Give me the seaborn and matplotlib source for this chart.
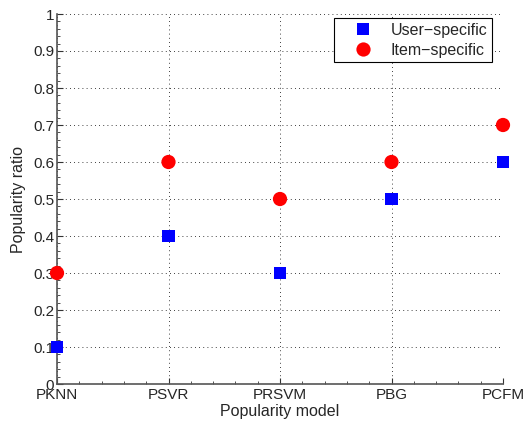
import matplotlib
matplotlib.use("Agg")
import matplotlib.pyplot as plt
import seaborn as sns
import pandas as pd
from matplotlib.ticker import AutoMinorLocator

models = ["PKNN", "PSVR", "PRSVM", "PBG", "PCFM"]
user_specific = [0.1, 0.4, 0.3, 0.5, 0.6]
item_specific = [0.3, 0.6, 0.5, 0.6, 0.7]
y_ticks = [0, 0.1, 0.2, 0.3, 0.4, 0.5, 0.6, 0.7, 0.8, 0.9, 1]
y_tick_labels = ["0", "0.1", "0.2", "0.3", "0.4", "0.5", "0.6", "0.7", "0.8", "0.9", "1"]

U = "User\u2212specific"
I = "Item\u2212specific"
df = pd.DataFrame({
    "x": list(range(len(models))) * 2,
    "ratio": user_specific + item_specific,
    "kind": [U] * len(models) + [I] * len(models),
})

sns.set_style("white")
plt.rcParams["font.family"] = ["Liberation Sans", "DejaVu Sans"]
plt.rcParams["xtick.bottom"] = True
plt.rcParams["ytick.left"] = True

fig = plt.figure(figsize=(5.24, 4.23), dpi=100)
ax = fig.add_axes([57/524, 39/423, 446/524, 370/423])

sns.scatterplot(data=df, x="x", y="ratio", hue="kind", style="kind", size="kind",
                palette={U: "#0000ff", I: "#ff0000"},
                markers={U: "s", I: "o"},
                sizes={U: 80, I: 105},
                linewidth=0, ax=ax, clip_on=False, zorder=5)

ax.set_xlim(0, 4)
ax.set_ylim(0, 1)
ax.set_xticks(range(len(models)))
ax.set_xticklabels(models)
ax.set_yticks(y_ticks)
ax.set_yticklabels(y_tick_labels)
ax.yaxis.set_minor_locator(AutoMinorLocator(5))
ax.xaxis.set_minor_locator(AutoMinorLocator(5))
ax.tick_params(axis="both", which="major", direction="in", length=4, width=0.8,
               labelsize=11, pad=2, color="#333333", bottom=True, left=True)
ax.tick_params(axis="x", which="major", pad=3)
ax.tick_params(axis="both", which="minor", direction="in", length=2, width=0.6,
               color="#333333", bottom=True, left=True)
ax.grid(True, which="major", linestyle=(0, (1, 4)), color="#000000", linewidth=0.6)
for s in ["top", "right"]:
    ax.spines[s].set_visible(False)
for s in ["left", "bottom"]:
    ax.spines[s].set_color("#555555")
    ax.spines[s].set_linewidth(1.2)

ax.set_xlabel("Popularity model", fontsize=11.5, labelpad=1)
ax.set_ylabel("Popularity ratio", fontsize=11.5, labelpad=5)

leg = ax.legend(loc="upper right", bbox_to_anchor=(492/524, 1 - 18/423),
                bbox_transform=fig.transFigure,
                fontsize=11.5, frameon=True, fancybox=False, borderpad=0.3,
                borderaxespad=0, handlelength=3.0, handletextpad=0.25,
                labelspacing=0.3, markerscale=1.0)
leg.get_frame().set_edgecolor("black")
leg.get_frame().set_linewidth(0.8)
leg.get_frame().set_alpha(1)

fig.savefig("out.png", dpi=100)
